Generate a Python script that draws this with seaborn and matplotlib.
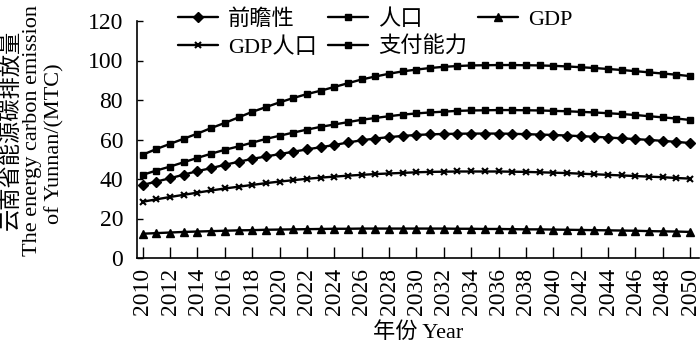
import matplotlib
matplotlib.use("Agg")
import matplotlib.pyplot as plt
import seaborn as sns
import numpy as np
import pandas as pd

years = list(range(2010, 2051))

qianzhan = [37.0, 38.7, 40.4, 42.2, 44.0, 45.5, 47.2, 48.7, 50.2, 51.4,
            52.6, 53.8, 55.0, 56.1, 57.2, 58.5, 59.6, 60.5, 61.2, 61.8,
            62.3, 62.6, 62.8, 62.9, 63.0, 63.0, 63.0, 62.9, 62.7, 62.5,
            62.3, 62.0, 61.7, 61.4, 61.0, 60.6, 60.2, 59.8, 59.3, 58.8, 58.2]
renkou = [42.1, 44.3, 46.3, 48.5, 50.7, 52.8, 54.8, 56.5, 58.4, 60.3,
          61.9, 63.5, 65.0, 66.4, 67.6, 68.8, 70.0, 70.9, 71.8, 72.6,
          73.2, 73.7, 74.1, 74.5, 74.7, 74.8, 74.9, 74.9, 74.8, 74.7,
          74.5, 74.3, 74.0, 73.7, 73.3, 72.9, 72.4, 71.8, 71.2, 70.6, 69.9]
gdp = [12.3, 12.6, 12.9, 13.2, 13.4, 13.6, 13.8, 14.0, 14.1, 14.3,
       14.4, 14.5, 14.6, 14.7, 14.8, 14.8, 14.9, 14.9, 14.9, 14.9,
       14.9, 14.9, 14.9, 14.8, 14.8, 14.7, 14.7, 14.6, 14.5, 14.5,
       14.4, 14.3, 14.2, 14.1, 14.0, 13.9, 13.8, 13.6, 13.5, 13.4, 13.2]
gdp_renkou = [28.5, 29.7, 30.9, 32.0, 33.1, 34.2, 35.2, 36.1, 37.0, 37.9,
              38.7, 39.4, 40.1, 40.7, 41.2, 41.7, 42.1, 42.5, 42.8, 43.1,
              43.4, 43.6, 43.7, 43.8, 43.8, 43.8, 43.8, 43.7, 43.6, 43.4,
              43.2, 43.0, 42.7, 42.4, 42.1, 41.8, 41.5, 41.2, 40.9, 40.5, 40.2]
zhifu = [52.3, 55.2, 57.8, 60.4, 63.0, 65.8, 68.4, 71.2, 74.0, 76.4,
         78.8, 81.0, 83.0, 84.7, 86.6, 88.5, 90.4, 91.9, 93.3, 94.5,
         95.4, 96.2, 96.8, 97.2, 97.5, 97.6, 97.7, 97.7, 97.6, 97.5,
         97.3, 97.0, 96.6, 96.2, 95.7, 95.2, 94.6, 94.0, 93.4, 92.8, 92.1]

series_names = ["前瞻性", "人口", "GDP", "GDP人口", "支付能力"]
xtick_labels = [str(y) for y in range(2010, 2051, 2)]
ytick_values = [0, 20, 40, 60, 80, 100, 120]

sns.set_theme(style="white")
plt.rcParams["font.family"] = ["Liberation Serif", "Noto Sans CJK SC"]
plt.rcParams["text.color"] = "black"
plt.rcParams["axes.labelcolor"] = "black"
plt.rcParams["xtick.color"] = "black"
plt.rcParams["ytick.color"] = "black"

fig, ax = plt.subplots(figsize=(7, 3.48), dpi=100)
fig.subplots_adjust(left=137 / 700, right=699 / 700, top=1 - 21 / 348, bottom=1 - 258 / 348)

styles = [("D", 5.0, 1.0), ("s", 4.0, 1.0), ("^", 6.0, 1.0), ("x", 5.0, 1.5), ("s", 5.0, 1.0)]
data = [qianzhan, renkou, gdp, gdp_renkou, zhifu]
handles = []
for name, vals, (mk, ms, mew) in zip(series_names, data, styles):
    df = pd.DataFrame({"year": years, "value": vals})
    sns.lineplot(data=df, x="year", y="value", ax=ax, color="black", linewidth=1.7,
                 marker=mk, markersize=ms, markeredgewidth=mew,
                 markeredgecolor="black", markerfacecolor="black", legend=False)
    handles.append(ax.lines[-1])

ax.set_xlim(2009.58, 2050.65)
ax.set_ylim(0, 120)
ax.set_xticks(range(2010, 2051, 2))
ax.set_xticklabels(xtick_labels)
ax.set_yticks(ytick_values)
ax.tick_params(axis="x", direction="in", length=8, width=1, rotation=90,
               labelsize=17, pad=7, bottom=True)
ax.tick_params(axis="y", direction="in", length=4, width=1, labelsize=17,
               pad=10, left=True)
for s in ["top", "right"]:
    ax.spines[s].set_visible(False)
for s in ["left", "bottom"]:
    ax.spines[s].set_color("black")
    ax.spines[s].set_linewidth(1.2)

ax.set_xlabel("年份 Year", fontsize=16, labelpad=5)
ax.set_ylabel("")

fig.text(12 / 700, 1 - 130 / 348, "云南省能源碳排放量", rotation=90, ha="center", va="center", fontsize=16)
fig.text(33 / 700, 1 - 130 / 348, "The energy carbon emission", rotation=90, ha="center", va="center", fontsize=16)
fig.text(55 / 700, 1 - 144 / 348, "of Yunnan/(MTC)", rotation=90, ha="center", va="center", fontsize=16)

order = [0, 3, 1, 4, 2]
ax.legend([handles[i] for i in order], [series_names[i] for i in order], ncol=3,
          loc="upper left", bbox_to_anchor=(178 / 700, 1 - 9 / 348),
          bbox_transform=fig.transFigure, frameon=False, fontsize=16,
          handlelength=1.8, handletextpad=0.45, columnspacing=0.5,
          labelspacing=0.33, borderpad=0, borderaxespad=0)

fig.savefig("out.png", dpi=100)
